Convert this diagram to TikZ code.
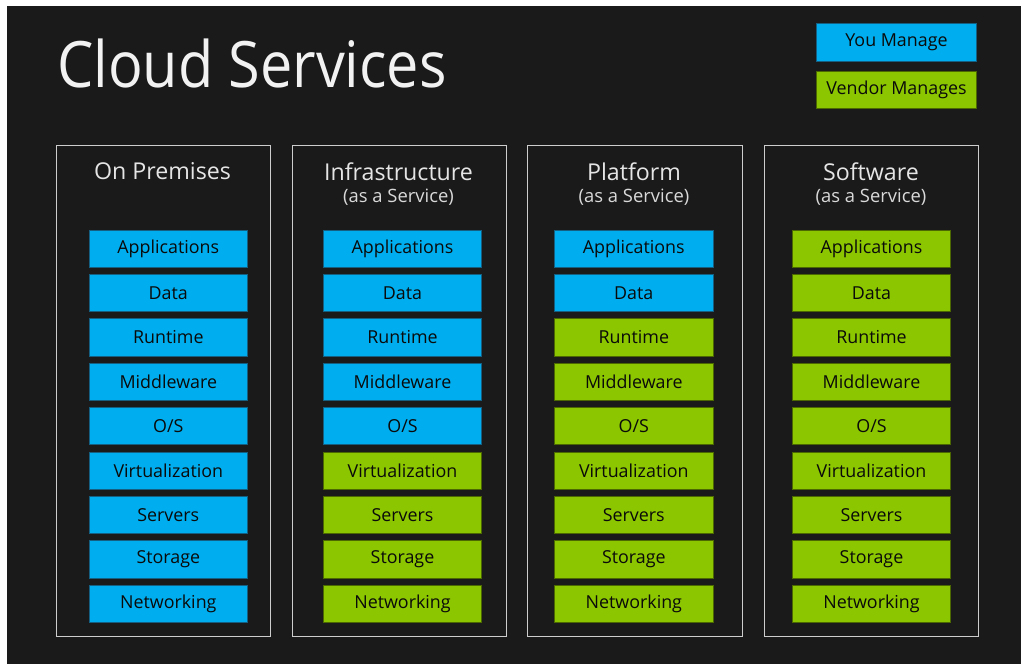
\documentclass[tikz,border=0pt]{standalone}
\usepackage{fontspec}
\setmainfont{Open Sans}
\usetikzlibrary{positioning}

\begin{document}
\begin{tikzpicture}[x=0.75pt,y=0.75pt,yscale=-1,xscale=1,
  layer/.style={draw, line width=0.6pt, minimum width=119pt, minimum height=28pt, inner sep=0pt, font=\fontsize{13.4}{15}\selectfont, text={rgb, 255:red, 10; green, 10; blue, 10}},
  you/.style={layer, fill={rgb, 255:red, 0; green, 174; blue, 239}, draw={rgb, 255:red, 20; green, 95; blue, 130}},
  vendor/.style={layer, fill={rgb, 255:red, 140; green, 198; blue, 0}, draw={rgb, 255:red, 75; green, 105; blue, 0}},
  heading/.style={text=white!90!black, inner sep=0pt, font=\fontsize{17.4}{19}\selectfont},
  subheading/.style={text=white!85!black, inner sep=0pt, font=\fontsize{13.8}{15}\selectfont},
  frame/.style={draw={rgb, 255:red, 205; green, 205; blue, 205}, line width=0.75pt}]
\useasboundingbox (0,0) rectangle (1021,664);
%background
\fill [white] (0,0) rectangle (1021,664);
\fill [color={rgb, 255:red, 26; green, 26; blue, 26}] (7,6) rectangle (1021,664);

% Title
\node (title) [anchor=base west, inner sep=0pt, text=white!95!black, font=\fontsize{48}{54}\selectfont] at (57,87) {\scalebox{0.9}[1]{Cloud Services}};

% Legend
\node (youlg) [you, minimum width=120pt, font=\fontsize{13.4}{15}\selectfont] at (896.5,42.5) {You Manage};
\node (vendorlg) [vendor, minimum width=120pt, font=\fontsize{13.4}{15}\selectfont] at (896.5,90) {Vendor Manages};

%Frames
\draw [frame] (56,145.5) rectangle (270.5,636);
\draw [frame] (292,145.5) rectangle (506.5,636);
\draw [frame] (527.5,145.5) rectangle (742.5,636);
\draw [frame] (764,145.5) rectangle (978.5,636);

% Headings
\node (onprem) [heading] at (162.5,171.5) {On Premises};
\node (iaas) [heading] at (398.5,171.5) {Infrastructure};
\node (iaassub) [subheading] at (398.5,197.5) {(as a Service)};
\node (paas) [heading] at (634,171.5) {Platform};
\node (paassub) [subheading] at (634,197.5) {(as a Service)};
\node (saas) [heading] at (871,171.5) {Software};
\node (saassub) [subheading] at (871,197.5) {(as a Service)};

% On Premises
\node (op1) [you] at (168.3,248.7) {Applications};
\node (op2) [you] at (168.3,293.1) {Data};
\node (op3) [you] at (168.3,337.5) {Runtime};
\node (op4) [you] at (168.3,381.8) {Middleware};
\node (op5) [you] at (168.3,426.2) {O/S};
\node (op6) [you] at (168.3,470.6) {Virtualization};
\node (op7) [you] at (168.3,515) {Servers};
\node (op8) [you] at (168.3,559.3) {Storage};
\node (op9) [you] at (168.3,603.7) {Networking};

% Infrastructure
\node (ia1) [you] at (402.5,248.7) {Applications};
\node (ia2) [you] at (402.5,293.1) {Data};
\node (ia3) [you] at (402.5,337.5) {Runtime};
\node (ia4) [you] at (402.5,381.8) {Middleware};
\node (ia5) [you] at (402.5,426.2) {O/S};
\node (ia6) [vendor] at (402.5,470.6) {Virtualization};
\node (ia7) [vendor] at (402.5,515) {Servers};
\node (ia8) [vendor] at (402.5,559.3) {Storage};
\node (ia9) [vendor] at (402.5,603.7) {Networking};

% Platform
\node (pa1) [you] at (633.8,248.7) {Applications};
\node (pa2) [you] at (633.8,293.1) {Data};
\node (pa3) [vendor] at (633.8,337.5) {Runtime};
\node (pa4) [vendor] at (633.8,381.8) {Middleware};
\node (pa5) [vendor] at (633.8,426.2) {O/S};
\node (pa6) [vendor] at (633.8,470.6) {Virtualization};
\node (pa7) [vendor] at (633.8,515) {Servers};
\node (pa8) [vendor] at (633.8,559.3) {Storage};
\node (pa9) [vendor] at (633.8,603.7) {Networking};

% Software
\node (sa1) [vendor] at (871.5,248.7) {Applications};
\node (sa2) [vendor] at (871.5,293.1) {Data};
\node (sa3) [vendor] at (871.5,337.5) {Runtime};
\node (sa4) [vendor] at (871.5,381.8) {Middleware};
\node (sa5) [vendor] at (871.5,426.2) {O/S};
\node (sa6) [vendor] at (871.5,470.6) {Virtualization};
\node (sa7) [vendor] at (871.5,515) {Servers};
\node (sa8) [vendor] at (871.5,559.3) {Storage};
\node (sa9) [vendor] at (871.5,603.7) {Networking};

\end{tikzpicture}
\end{document}
